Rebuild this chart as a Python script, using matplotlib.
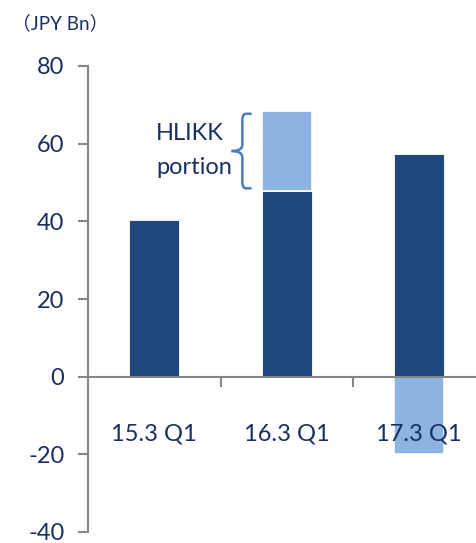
import matplotlib
matplotlib.use("Agg")
import matplotlib.pyplot as plt
import numpy as np
from matplotlib.path import Path
from matplotlib.patches import PathPatch

categories = ["15.3 Q1", "16.3 Q1", "17.3 Q1"]
base_values = [40.3, 47.9, 57.4]
hlikk_values = [0.0, 20.6, -19.8]
yticks = [-40, -20, 0, 20, 40, 60, 80]

DARK = "#1F497D"
LIGHT = "#8DB3E2"
TEXT = "#172F62"
GRAY = "#868686"
BRACE = "#4A7EBB"

plt.rcParams['font.family'] = ['Lato', 'Noto Sans CJK JP', 'DejaVu Sans']

W, H = 476, 543
fig = plt.figure(figsize=(W / 100, H / 100), dpi=100)
left_px, right_px = 88, 88 + 132.5 * 3
bot_px, top_px = 532, 66
ax = fig.add_axes([left_px / W, (H - bot_px) / H, (right_px - left_px) / W, (bot_px - top_px) / H])

x = np.arange(len(categories))
base = np.array(base_values)
hl = np.array(hlikk_values)
width = 0.377
ax.bar(x, base, width, color=DARK, edgecolor="white", linewidth=0.6, zorder=1)
hl_bottom = np.where(hl > 0, base, 0)
mask = hl != 0
ax.bar(x[mask], hl[mask], width, bottom=hl_bottom[mask], color=LIGHT,
       edgecolor="white", linewidth=1.2, zorder=1)

ax.set_xlim(-0.5, 2.5)
ax.set_ylim(-40, 80)
ax.set_yticks(yticks)
ax.set_yticklabels([str(v) for v in yticks])

for s in ["top", "right"]:
    ax.spines[s].set_visible(False)
ax.spines["left"].set_color(GRAY)
ax.spines["left"].set_linewidth(1.5)
ax.spines["bottom"].set_position(("data", 0))
ax.spines["bottom"].set_color(GRAY)
ax.spines["bottom"].set_linewidth(1.5)
ax.spines["bottom"].set_zorder(3)

ax.tick_params(axis="y", direction="out", length=7, width=1.5, color=GRAY,
               labelsize=17, labelcolor=TEXT, pad=10)
ax.set_xticks([0.5, 1.5])
ax.set_xticklabels(["", ""])
ax.tick_params(axis="x", which="major", direction="out", length=7, width=1.5, color=GRAY)
ax.set_xticks(x, minor=True)
ax.set_xticklabels(categories, minor=True)
ax.tick_params(axis="x", which="minor", length=0, pad=34, labelsize=17, labelcolor=TEXT)

# brace beside the HLIKK portion of 16.3 Q1
b_lo = base[1] + 0.6
b_hi = base[1] + hl[1] - 0.8
b_mid = (b_lo + b_hi) / 2
xv, xr, xt = 0.665, 0.735, 0.583
r = 1.6
rx = 0.03
p1 = Path([(xr, b_hi), (xv + rx, b_hi), (xv, b_hi), (xv, b_hi - r),
           (xv, b_mid + r), (xv, b_mid), (xt, b_mid)],
          [Path.MOVETO, Path.LINETO, Path.CURVE3, Path.CURVE3,
           Path.LINETO, Path.CURVE3, Path.CURVE3])
p2 = Path([(xt, b_mid), (xv, b_mid), (xv, b_mid - r),
           (xv, b_lo + r), (xv, b_lo), (xv + rx, b_lo), (xr, b_lo)],
          [Path.MOVETO, Path.CURVE3, Path.CURVE3,
           Path.LINETO, Path.CURVE3, Path.CURVE3, Path.LINETO])
for p in (p1, p2):
    ax.add_patch(PathPatch(p, facecolor="none", edgecolor=BRACE, linewidth=1.8,
                           capstyle="butt", zorder=4))

fig.text(156 / W, 1 - 140 / H, "HLIKK", fontsize=17, color=TEXT, ha="left", va="baseline")
fig.text(156 / W, 1 - 174 / H, "portion", fontsize=17, color=TEXT, ha="left", va="baseline")
fig.text(12 / W, 1 - 23 / H, "（JPY Bn）", fontsize=13.5, color=TEXT, ha="left", va="center")

fig.savefig("out.png", dpi=100)
